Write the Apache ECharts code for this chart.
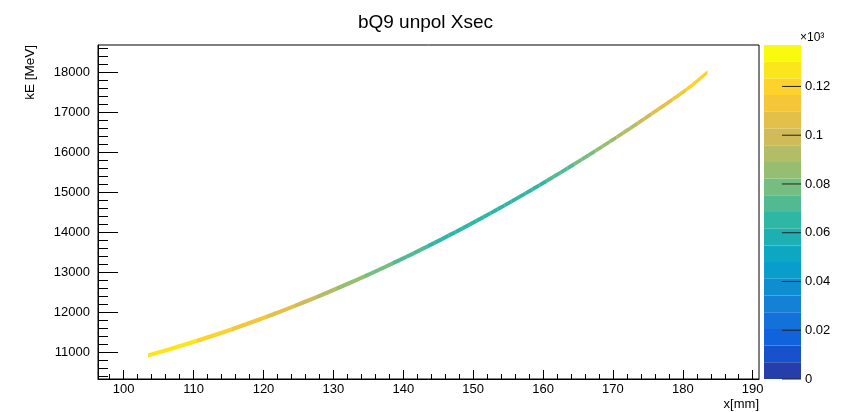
<!DOCTYPE html>
<html><head><meta charset="utf-8">
<script src="https://cdn.jsdelivr.net/npm/echarts@6/dist/echarts.min.js"></script>
<style>html,body{margin:0;padding:0;background:#fff}#c{width:851px;height:412px}</style>
</head><body><div id="c"></div><script>
// ---- data ----
const xBins = [104,105,106,107,108,109,110,111,112,113,
  114,115,116,117,118,119,120,121,122,123,
  124,125,126,127,128,129,130,131,132,133,
  134,135,136,137,138,139,140,141,142,143,
  144,145,146,147,148,149,150,151,152,153,
  154,155,156,157,158,159,160,161,162,163,
  164,165,166,167,168,169,170,171,172,173,
  174,175,176,177,178,179,180,181,182,183];
const kE = [10950,11000,11050,11102,11154,11208,11262,11318,11374,11432,
  11490,11549,11610,11671,11733,11797,11861,11926,11992,12059,
  12127,12197,12267,12338,12410,12483,12557,12632,12708,12785,
  12862,12941,13021,13102,13184,13267,13350,13435,13521,13607,
  13695,13784,13873,13964,14055,14148,14241,14336,14431,14528,
  14625,14723,14823,14923,15024,15127,15230,15334,15439,15545,
  15653,15761,15870,15980,16091,16203,16316,16430,16545,16661,
  16778,16896,17014,17134,17255,17377,17500,17630,17770,17920];
const zVals = [0.130,0.130,0.129,0.128,0.127,0.126,0.125,0.123,0.122,0.121,
  0.119,0.118,0.116,0.115,0.113,0.112,0.110,0.108,0.106,0.105,
  0.103,0.101,0.099,0.097,0.095,0.093,0.091,0.089,0.087,0.085,
  0.083,0.081,0.079,0.078,0.076,0.075,0.073,0.072,0.070,0.069,
  0.068,0.067,0.066,0.065,0.064,0.064,0.063,0.063,0.063,0.063,
  0.063,0.064,0.064,0.065,0.066,0.067,0.068,0.070,0.071,0.073,
  0.075,0.077,0.079,0.081,0.083,0.085,0.087,0.090,0.092,0.095,
  0.097,0.100,0.103,0.105,0.108,0.111,0.114,0.117,0.120,0.123];
const xMajor = [100,110,120,130,140,150,160,170,180,190];
const xMinor = [98,102,104,106,108,112,114,116,118,122,124,126,128,132,134,136,138,
  142,144,146,148,152,154,156,158,162,164,166,168,172,174,176,178,182,184,186,188,190];
const yMajor = [11000,12000,13000,14000,15000,16000,17000,18000];
const yMinor = [10400,10600,10800,11200,11400,11600,11800,12200,12400,12600,12800,
  13200,13400,13600,13800,14200,14400,14600,14800,15200,15400,15600,15800,
  16200,16400,16600,16800,17200,17400,17600,17800,18200,18400,18600];
const zTicks = [0,0.02,0.04,0.06,0.08,0.10,0.12];
const X_MIN = 96.32, X_MAX = 190.9, Y_MIN = 10335, Y_MAX = 18680, Z_MAX = 0.137;
const N_LEVELS = 20;

// ---- kBird palette ----
const st = [0,.125,.25,.375,.5,.625,.75,.875,1];
const R = [0.2082,0.0592,0.0780,0.0232,0.1802,0.5301,0.8186,0.9956,0.9764];
const G = [0.1664,0.3599,0.5041,0.6419,0.7178,0.7492,0.7328,0.7862,0.9832];
const B = [0.5293,0.8684,0.8385,0.7914,0.6425,0.4662,0.3499,0.1968,0.0539];
function bird(t){
  t = Math.max(0, Math.min(1, t));
  let k = 0; while (k < st.length-2 && t > st[k+1]) k++;
  const f = (t - st[k])/(st[k+1]-st[k]);
  const c = a => Math.round(255*(a[k] + f*(a[k+1]-a[k])));
  return 'rgb(' + c(R) + ',' + c(G) + ',' + c(B) + ')';
}
const w = Z_MAX / N_LEVELS;
const pieces = [], bands = [];
for (let i = 0; i < N_LEVELS; i++) {
  const col = bird((i + 0.99) / N_LEVELS);
  const p = { gte: i*w, color: col };
  if (i < N_LEVELS-1) p.lt = (i+1)*w; else p.lte = Z_MAX*1.01;
  pieces.push(p);
  bands.push([0, i*w, (i+1)*w, (i+0.5)*w]);
}

// ---- cells: [x, kE at left edge, kE at right edge, z] ----
const HALF = 55;
const cells = xBins.map((x, i) => {
  const prev = i > 0 ? kE[i-1] : kE[i] - (kE[i+1]-kE[i]);
  const next = i < kE.length-1 ? kE[i+1] : kE[i] + (kE[i]-kE[i-1]);
  return [x, (prev + kE[i])/2, (kE[i] + next)/2, zVals[i]];
});

const FF = '"Liberation Sans", Arial, Helvetica, sans-serif';
const chart = echarts.init(document.getElementById('c'), null, {renderer:'canvas'});
chart.setOption({
  backgroundColor: '#fff',
  animation: false,
  textStyle: { fontFamily: FF },
  title: { text: 'bQ9 unpol Xsec', left: 'center', top: 8,
    textStyle: { fontFamily: FF, fontSize: 19, fontWeight: 'normal', color: '#000' } },
  grid: [
    { left: 98, top: 45, width: 661, height: 334, show: true, borderColor: '#000', borderWidth: 1, backgroundColor: 'transparent' },
    { left: 764, top: 45, width: 37, height: 334, show: false }
  ],
  xAxis: [
    { gridIndex: 0, type: 'value', min: X_MIN, max: X_MAX, position: 'bottom',
      axisLine: { show: true, onZero: false, lineStyle: { color: '#000', width: 1 } },
      axisTick: { show: true, inside: true, length: 9, customValues: xMajor, lineStyle: { color: '#000' } },
      axisLabel: { customValues: xMajor, fontSize: 13, color: '#000', margin: 4, fontFamily: FF },
      splitLine: { show: false } },
    { gridIndex: 0, type: 'value', min: X_MIN, max: X_MAX, position: 'bottom',
      axisLine: { show: false },
      axisTick: { show: true, inside: true, length: 5, customValues: xMinor, lineStyle: { color: '#000' } },
      axisLabel: { show: false }, splitLine: { show: false } },
    { gridIndex: 1, type: 'value', min: 0, max: 1, show: false }
  ],
  yAxis: [
    { gridIndex: 0, type: 'value', min: Y_MIN, max: Y_MAX, position: 'left',
      axisLine: { show: true, onZero: false, lineStyle: { color: '#000', width: 1 } },
      axisTick: { show: true, inside: true, length: 20, customValues: yMajor, lineStyle: { color: '#000' } },
      axisLabel: { customValues: yMajor, fontSize: 13, color: '#000', margin: 8, fontFamily: FF,
        formatter: v => String(Math.round(v)) },
      splitLine: { show: false } },
    { gridIndex: 0, type: 'value', min: Y_MIN, max: Y_MAX, position: 'left',
      axisLine: { show: false },
      axisTick: { show: true, inside: true, length: 10, customValues: yMinor, lineStyle: { color: '#000' } },
      axisLabel: { show: false }, splitLine: { show: false } },
    { gridIndex: 1, type: 'value', min: 0, max: Z_MAX, position: 'right',
      axisLine: { show: false },
      axisTick: { show: false },
      axisLabel: { customValues: zTicks, fontSize: 13, color: '#000', margin: 4, fontFamily: FF,
        formatter: v => String(+(+v).toFixed(2)) },
      splitLine: { show: false } }
  ],
  visualMap: { type: 'piecewise', show: false, dimension: 3, seriesIndex: [0, 1], pieces: pieces },
  series: [
    { type: 'custom', xAxisIndex: 0, yAxisIndex: 0, data: cells, encode: { x: 0, y: [1, 2] },
      renderItem: function (params, api) {
        const x = api.value(0), yl = api.value(1), yr = api.value(2);
        const a = api.coord([x - 0.52, yl - HALF]);
        const b = api.coord([x + 0.52, yr - HALF]);
        const c = api.coord([x + 0.52, yr + HALF]);
        const d = api.coord([x - 0.52, yl + HALF]);
        return { type: 'polygon', shape: { points: [a, b, c, d] },
          style: { fill: api.visual('color') } };
      } },
    { type: 'custom', xAxisIndex: 2, yAxisIndex: 2, data: bands, encode: { x: 0, y: [1, 2] },
      renderItem: function (params, api) {
        const lo = api.value(1), hi = api.value(2);
        const p0 = api.coord([0, hi]);
        const p1 = api.coord([1, lo]);
        return { type: 'rect', shape: { x: p0[0], y: p0[1], width: p1[0]-p0[0], height: p1[1]-p0[1] },
          style: { fill: api.visual('color') } };
      } },
    { type: 'custom', xAxisIndex: 2, yAxisIndex: 2, data: zTicks.map(v => [v]), encode: { y: 0 }, z: 5,
      renderItem: function (params, api) {
        const v = api.value(0);
        const p0 = api.coord([0.486, v]);
        const p1 = api.coord([1, v]);
        return { type: 'line', shape: { x1: p0[0], y1: p0[1], x2: p1[0], y2: p1[1] },
          style: { stroke: '#222', lineWidth: 1 } };
      } }
  ],
  graphic: [
    { type: 'text', x: 30, y: 45, rotation: Math.PI/2,
      style: { text: 'kE [MeV]', fontFamily: FF, fontSize: 13.5, fill: '#000', align: 'right', verticalAlign: 'middle' } },
    { type: 'text', x: 759, y: 404,
      style: { text: 'x[mm]', fontFamily: FF, fontSize: 13, fill: '#000', align: 'right', verticalAlign: 'middle' } },
    { type: 'text', x: 800, y: 38,
      style: { text: '×10³', fontFamily: FF, fontSize: 12, fill: '#000', align: 'left', verticalAlign: 'middle' } }
  ]
});
</script></body></html>
